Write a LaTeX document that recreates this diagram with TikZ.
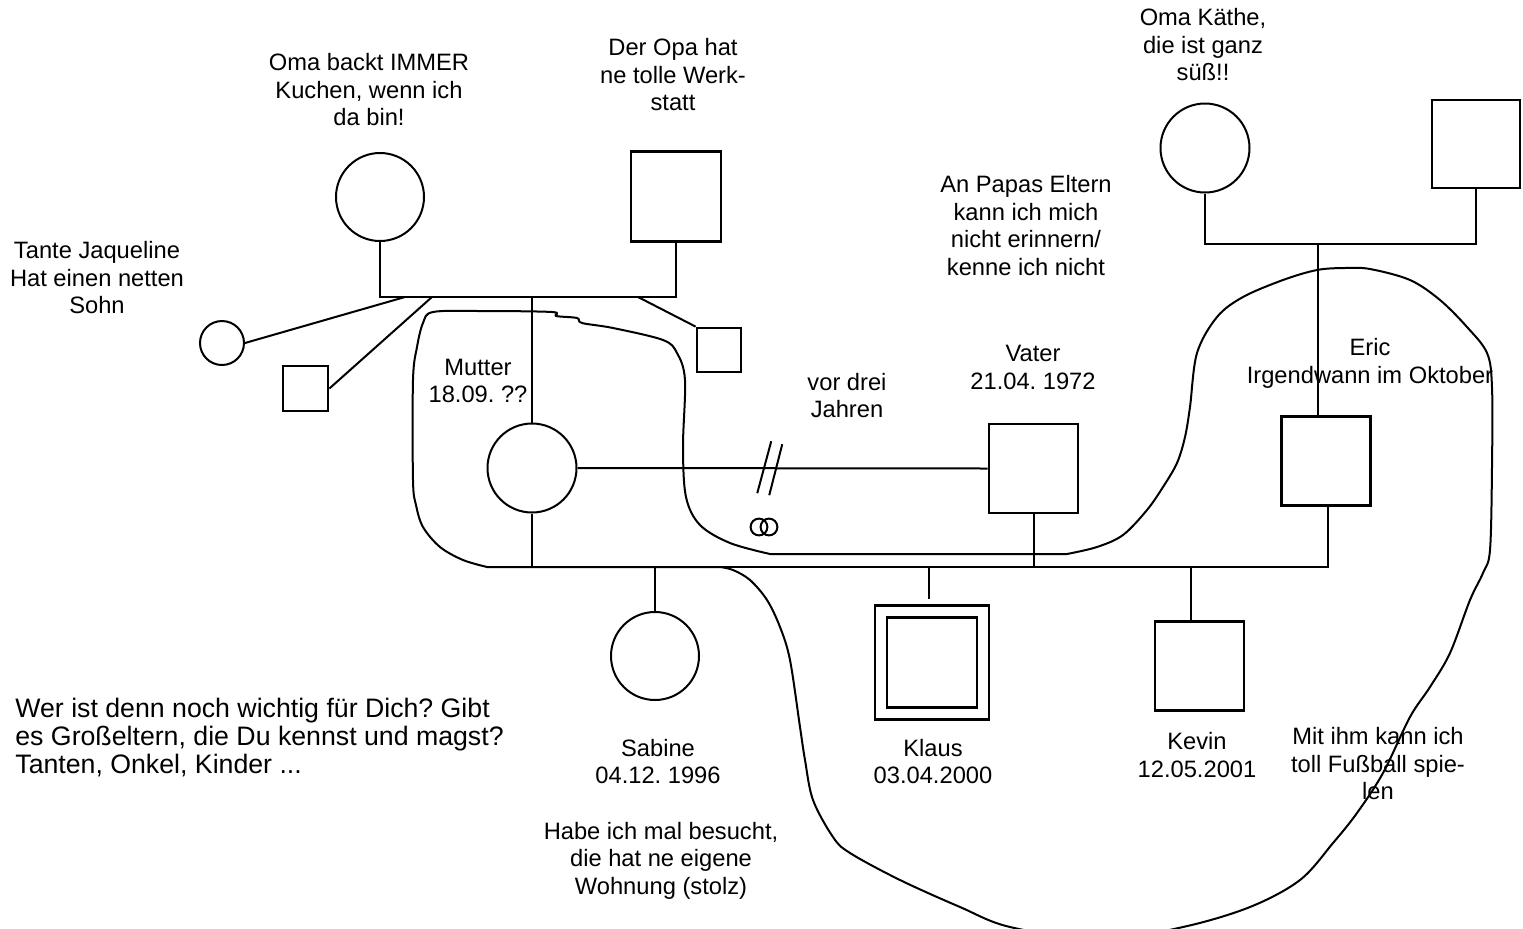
\documentclass[tikz,border=0pt]{standalone}
\usepackage{fontspec}
\setmainfont{Liberation Sans}
\usepackage{tikz}
\usetikzlibrary{calc}
\frenchspacing

\begin{document}
\begin{tikzpicture}[
  x=0.5pt, y=-0.5pt,
  font=\fontsize{11.85}{13.75}\selectfont,
  female/.style={draw, circle, line width=1pt, minimum size=44pt, inner sep=0pt},
  male/.style={draw, rectangle, line width=1.4pt, minimum size=44.5pt, inner sep=0pt},
  note/.style={align=center, inner sep=0pt},
  link/.style={line width=1pt},
  lasso/.style={line width=1pt, line join=round, line cap=round},
]
\clip (0,0) rectangle (1523,928);

% Grandparents (mother's side)
\node[female] (oma) at (380,197) {};
\node[male, minimum size=45pt] (opa) at (676,196.5) {};
\node[note] (omaText) at (369,90) {Oma backt IMMER\\Kuchen, wenn ich\\da bin!};
\node[note] (opaText) at (673,75) {Der Opa hat\\ne tolle Werk-\\statt};
\coordinate (topbar) at (0,297);
\draw[link] (oma.south) |- (topbar -| opa.south) -- (opa.south);

% Aunt, cousin, uncle
\node[female, minimum size=22pt] (tante) at (222,343) {};
\node[male, minimum size=22.5pt] (sohn) at (305.5,388.5) {};
\node[male, minimum size=22pt] (onkel) at (719,350) {};
\node[note] (tanteText) at (97,278) {Tante Jaqueline\\Hat einen netten\\Sohn};
\draw[link] (tante.east) -- (405,297);
\draw[link] (sohn.east) -- (432,297);
\draw[link] (onkel.north west) -- (638,297);

% Grandparents (father's side)
\node[female, minimum size=44.5pt] (kaethe) at (1205,148) {};
\node[male, minimum size=44pt] (opa2) at (1476,144) {};
\node[note] (kaetheText) at (1203,45) {Oma K\"athe,\\die ist ganz\\s\"u\ss!!};
\node[note] (papasText) at (1026,225.5) {An Papas Eltern\\kann ich mich\\nicht erinnern/\\kenne ich nicht};
\coordinate (rightbar) at (0,244);
\draw[link] (kaethe.south) |- (rightbar -| opa2.south) -- (opa2.south);

% Parents
\node[female, minimum size=44.5pt] (mutter) at (532,468) {};
\node[male] (vater) at (1033.5,468.5) {};
\node[male] (eric) at (1326,461) {};
\node[note] (mutterText) at (478,381) {Mutter\\18.09. ??};
\node[note] (vaterText) at (1033,367.5) {Vater\\21.04. 1972};
\node[note] (ericText) at (1370,363.5) {Eric\\Irgendwann im Oktober};
\node[note] (divText) at (847,395.5) {vor drei\\Jahren};
\draw[link] (mutter.north |- topbar) -- (mutter.north);
\draw[link] ([shift={(-8,0)}]eric.north |- rightbar) -- ([shift={(-8,0)}]eric.north);
\draw[link] (mutter.east) -- coordinate[pos=0.47] (div) (vater.west);
\draw[link] ([shift={(-13,25)}]div) -- ([shift={(1,-27)}]div);
\draw[link] ([shift={(-1,27)}]div) -- ([shift={(12,-24)}]div);
\draw[link] (759,527) circle (4.2pt) (769,527) circle (4.2pt);

% Children
\coordinate (bar) at (0,567);
\draw[link] (mutter.south) -- (mutter.south |- bar) -- ([shift={(2,0)}]eric.south |- bar) -- ([shift={(2,0)}]eric.south);
\draw[link] (vater.south) -- (vater.south |- bar);
\node[female] (sabine) at (655,656) {};
\node[male, minimum size=51pt, double, double distance=4.6pt] (klaus) at (932,662.5) {};
\node[male] (kevin) at (1199.5,666) {};
\draw[link] (sabine.north |- bar) -- (sabine.north);
\draw[link, shorten >=5.5pt] ([shift={(-3,0)}]klaus.north |- bar) -- ([shift={(-3,0)}]klaus.north);
\draw[link] ([shift={(-9,0)}]kevin.north |- bar) -- ([shift={(-9,0)}]kevin.north);
\node[note] (sabineText) at (658,761.5) {Sabine\\04.12. 1996};
\node[note] (sabineNote) at (661,860.5) {Habe ich mal besucht,\\die hat ne eigene\\Wohnung (stolz)};
\node[note] (klausText) at (933,761.5) {Klaus\\03.04.2000};
\node[note] (kevinText) at (1197,755) {Kevin\\12.05.2001};
\node[note] (fussballText) at (1378,764) {Mit ihm kann ich\\toll Fu\ss ball spie-\\len};
\node[note, align=left, anchor=west, font=\fontsize{13.35}{13.9}\selectfont] (questionText) at (15,737.5) {Wer ist denn noch wichtig f\"ur Dich? Gibt\\es Gro\ss eltern, die Du kennst und magst?\\Tanten, Onkel, Kinder ...};

% Circle round the people who matter
\draw[lasso] plot[smooth, tension=0.55] coordinates {(487,567) (463,560) (440,547) (423,527) (416,505) (413,480) (413,380) (417,347) (423,323) (433,312) (480,311) (552,312) (556,316) (577,318) (582,323) (613,328) (663,340) (677,353) (685,380) (683,447) (686,497) (700,525) (730,543) (770,554)}
  -- plot[smooth, tension=0.55] coordinates {(1067,554) (1097,547) (1123,535) (1147,510) (1163,487) (1177,463) (1185,437) (1190,407) (1197,353) (1217,317) (1243,297) (1283,280) (1317,270) (1345,268) (1370,269) (1410,280) (1440,300) (1467,327) (1487,353) (1492,387) (1492,467) (1490,550) (1483,573) (1470,600) (1450,653) (1430,687) (1410,717) (1383,773) (1357,813) (1333,843) (1300,880) (1250,907) (1183,927) (1100,940) (1010,927) (960,907) (900,880) (850,853) (833,837) (813,800) (805,760) (800,727) (790,660) (780,627) (767,600) (750,580) (733,570) (720,567)} -- cycle;
\end{tikzpicture}
\end{document}
